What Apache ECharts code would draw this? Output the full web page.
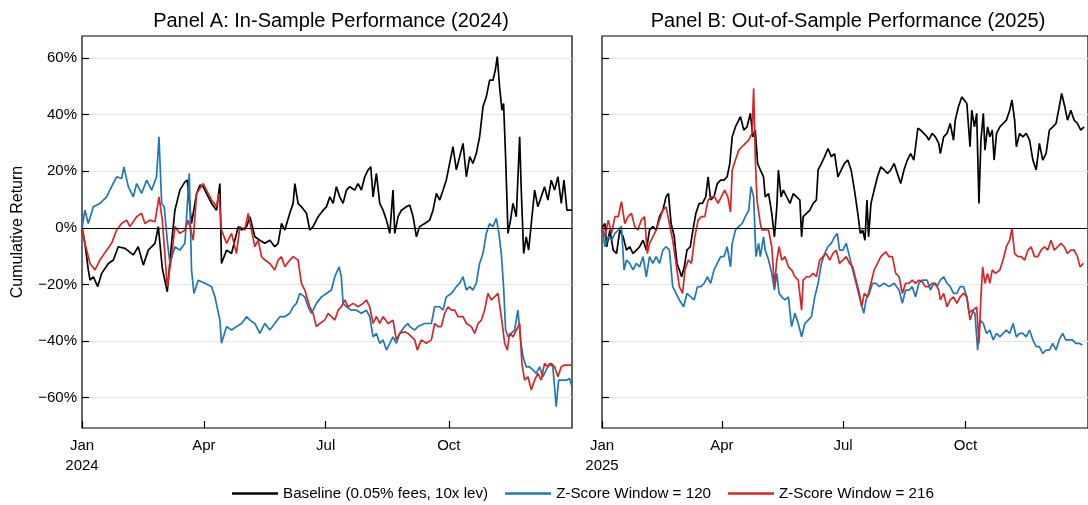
<!DOCTYPE html>
<html>
<head>
<meta charset="utf-8">
<title>Cumulative Return</title>
<script src="https://cdn.jsdelivr.net/npm/echarts@6.0.0/dist/echarts.min.js"></script>
<style>
  html, body { margin: 0; padding: 0; background: #fff; }
  #main { width: 1088px; height: 505px; }
</style>
</head>
<body>
<div id="main"></div>
<script>
// [day of year, cumulative return %]

// Panel A (2024)
const baselineA = [[0,0],[2.2,-5.5],[4.7,-14.9],[6.0,-18.5],[8.5,-17.3],[11.7,-20.8],[14.7,-16.1],[19.7,-12.6],[23.4,-11.4],[27.1,-6.7],[32.1,-7.3],[38.3,-9.6],[42.0,-6.7],[45.8,-13.2],[49.5,-7.9],[54.5,-5.5],[57.0,0.4],[60.0,-14.4],[63.7,-22.6],[66.9,-5.5],[69.4,6.2],[73.1,13.3],[76.9,16.2],[78.6,16.8],[81.8,1.5],[85.6,12.1],[88.1,15.1],[90.5,14.5],[93.0,12.1],[96.8,8.6],[100.5,6.2],[103.0,15.6],[104.2,-12.6],[108.0,-7.9],[111.7,-9.1],[116.7,0.4],[119.2,-0.8],
  [122.9,0.4],[125.4,3.9],[129.1,-3.2],[132.8,-4.4],[136.6,-5.5],[140.3,-4.4],[144.0,-6.7],[146.5,-5.5],[149.0,1.5],[151.5,-0.8],[155.2,5.1],[157.7,8.6],[159.0,15.6],[161.4,8.6],[163.9,7.4],[167.7,5.1],[170.1,-0.8],[172.6,0.4],[176.4,3.9],[180.1,6.2],[182.6,7.4],[185.1,10.9],[187.6,8.6],[190.0,14.5],[192.5,10.9],[195.0,8.6],[197.5,13.3],[200.0,14.5],[203.7,13.3],[206.2,15.6],[208.7,13.3],[211.2,18.0],[213.7,20.4],[215.7,21.5],[217.4,10.9],[219.9,19.2],[222.4,8.6],[224.9,6.2],[227.4,2.7],[229.9,-2.0],[232.3,13.3],[233.6,-2.0],[236.1,3.9],[238.6,6.2],[242.3,7.4],
  [244.8,8.0],[247.3,3.9],[249.8,-3.2],[252.2,0.4],[256.0,1.5],[259.7,2.7],[262.2,6.2],[264.7,12.1],[267.2,9.8],[269.7,13.3],[272.1,16.8],[274.6,22.7],[277.1,28.6],[279.6,20.4],[282.1,25.1],[284.6,29.8],[287.1,18.0],[289.6,25.1],[292.0,22.7],[294.5,26.2],[297.0,32.1],[299.5,42.7],[302.0,46.2],[304.5,52.1],[307.0,52.1],[308.7,55.6],[310.2,60.4],[311.9,49.8],[313.7,41.5],[314.9,43.9],[316.4,25.1],[318.2,-2.0],[320.1,2.7],[321.9,8.6],[324.4,3.9],[326.9,32.1],[328.1,13.3],[329.9,-9.1],[331.8,-3.2],[333.6,-7.9],[335.6,1.5],[338.1,13.3],[340.5,7.4],[343.0,10.9],[345.5,14.5],[348.0,9.8],[350.5,16.8],[353.0,13.3],[355.5,18.0],[358.0,8.6],[360.0,16.8],[362.2,6.2],[364.2,6.2],[366.0,6.2]];

const z120A = [[0,0],[2.2,6.2],[4.7,1.5],[8.5,7.4],[13.4,8.6],[18.4,10.9],[22.1,14.5],[25.9,18.0],[29.6,17.4],[31.3,21.5],[34.6,14.5],[38.3,10.9],[40.8,15.6],[44.5,12.1],[48.3,16.8],[52.0,13.3],[55.7,18.0],[57.5,32.1],[59.5,8.6],[61.4,7.4],[63.9,-5.5],[65.7,-12.6],[69.4,-6.7],[73.1,-7.9],[76.9,-5.5],[80.1,19.2],[81.8,-14.9],[83.6,-23.2],[86.8,-18.5],[91.8,-19.6],[96.8,-20.8],[99.3,-24.4],[103.0,-32.6],[104.2,-40.8],[108.0,-34.9],[111.7,-36.1],[115.4,-34.9],[119.2,-33.8],
  [122.9,-31.4],[125.4,-32.6],[129.1,-33.8],[132.8,-37.3],[136.6,-33.8],[140.3,-36.1],[144.0,-33.8],[147.8,-31.4],[151.5,-31.4],[155.2,-30.2],[157.7,-27.9],[160.2,-26.7],[162.7,-23.2],[166.4,-24.4],[168.9,-27.9],[171.4,-30.2],[175.1,-26.7],[178.9,-24.4],[182.6,-23.2],[186.3,-22.0],[188.8,-17.3],[192.0,-13.8],[193.7,-17.3],[195.0,-26.7],[197.5,-27.9],[201.2,-29.1],[205.0,-29.1],[208.7,-30.2],[212.4,-29.1],[214.9,-31.4],[217.4,-38.5],[219.9,-37.3],[222.4,-40.8],[224.9,-39.6],[227.4,-43.2],[229.9,-40.8],[232.3,-38.5],[234.8,-40.8],[237.3,-37.3],[241.0,-34.9],[243.5,-33.8],
  [244.8,-34.9],[248.5,-36.1],[251.0,-34.9],[256.0,-33.8],[261.0,-33.8],[263.4,-27.9],[267.2,-27.9],[269.7,-29.1],[272.1,-24.4],[275.9,-23.2],[279.6,-20.8],[282.1,-19.6],[284.6,-17.3],[287.1,-22.0],[289.6,-20.8],[292.0,-22.0],[294.5,-19.6],[297.0,-12.6],[299.5,-9.1],[302.0,-2.0],[304.5,1.5],[307.0,0.4],[309.5,3.3],[311.4,-2.0],[313.2,-9.1],[314.9,-20.8],[316.4,-36.1],[318.2,-38.5],[320.6,-37.3],[323.1,-36.1],[325.6,-29.1],[327.6,-39.6],[329.4,-45.5],[331.8,-49.1],[334.3,-49.1],[336.8,-50.2],[339.3,-51.4],[341.8,-49.1],[344.3,-52.6],[346.8,-50.2],[349.3,-47.9],[351.7,-49.1],[354.2,-63.2],[356.0,-53.8],[359.2,-53.8],[361.7,-53.8],[364.2,-53.2],[366.0,-56.1]];

const z216A = [[0,0],[2.2,-5.5],[6.0,-12.6],[9.7,-14.9],[13.4,-11.4],[18.4,-7.9],[22.1,-5.5],[25.9,-0.8],[29.6,1.5],[33.3,2.7],[35.8,0.4],[40.8,3.9],[44.5,5.1],[47.0,1.5],[50.7,2.7],[54.5,2.1],[57.5,10.9],[60.0,2.7],[62.4,-12.6],[63.7,-20.8],[66.9,-10.2],[69.4,0.4],[73.1,-2.0],[76.9,-0.8],[79.4,2.7],[83.1,-4.4],[85.6,12.1],[90.5,15.6],[93.0,13.3],[96.8,9.8],[100.5,7.4],[102.2,12.1],[104.2,-0.8],[108.0,-5.5],[111.7,-2.0],[115.4,-9.1],[117.9,0.4],[121.6,-0.8],
  [124.1,5.1],[126.6,-0.8],[129.1,-6.7],[131.6,-4.4],[134.1,-10.2],[136.6,-11.4],[140.3,-12.6],[144.0,-14.9],[146.5,-11.4],[149.0,-10.2],[151.5,-13.8],[155.2,-11.4],[157.7,-10.2],[161.4,-11.4],[163.9,-19.6],[166.4,-22.0],[170.1,-27.9],[172.6,-30.2],[175.1,-34.9],[177.6,-33.8],[181.3,-32.6],[183.8,-30.2],[186.3,-31.4],[188.8,-32.6],[191.3,-29.1],[193.7,-27.9],[196.3,-25.5],[198.7,-27.9],[202.5,-26.7],[206.2,-27.9],[210.0,-26.7],[212.4,-25.5],[214.9,-27.9],[217.4,-33.8],[219.9,-31.4],[222.4,-33.8],[224.9,-31.4],[228.6,-33.8],[232.3,-32.6],[234.8,-39.6],[237.3,-37.3],[241.0,-36.7],[243.5,-37.3],
  [244.8,-37.3],[248.5,-39.6],[250.5,-43.2],[253.5,-39.6],[257.2,-40.8],[261.0,-39.6],[263.4,-33.8],[266.0,-34.9],[268.4,-34.9],[270.9,-30.2],[273.4,-27.9],[275.9,-29.1],[278.4,-29.1],[280.8,-31.4],[284.6,-31.4],[287.1,-33.8],[290.8,-34.9],[293.3,-37.3],[295.8,-33.8],[298.3,-32.6],[300.7,-29.1],[303.2,-23.2],[305.7,-25.5],[308.2,-24.4],[310.7,-23.2],[313.2,-31.4],[315.7,-40.8],[317.7,-43.2],[319.4,-37.3],[321.9,-38.5],[324.4,-36.1],[326.9,-33.8],[328.6,-47.9],[330.6,-53.8],[333.1,-52.6],[335.6,-57.3],[338.1,-53.8],[340.5,-51.4],[343.0,-53.8],[345.5,-47.9],[348.0,-49.1],[350.5,-47.9],[353.0,-49.1],[355.5,-52.6],[358.0,-49.1],[360.5,-48.5],[363.0,-48.5],[366.0,-48.5]];

// Panel B (2025)
const baselineB = [[0,0],[2.2,1.5],[3.5,-6.7],[6.0,-0.8],[8.4,-7.9],[10.9,-9.1],[13.4,-0.8],[15.9,-3.2],[18.4,-7.9],[20.8,-6.7],[23.3,-9.1],[25.8,-7.9],[28.3,-6.7],[30.8,-4.4],[33.3,-7.9],[35.7,-0.8],[38.2,0.4],[40.7,-0.8],[43.2,3.9],[45.7,6.2],[48.1,10.9],[49.9,12.1],[51.9,1.5],[54.3,-3.2],[56.3,-12.6],[58.1,-14.9],[59.8,-17.3],[61.8,-13.8],[63.8,-7.9],[66.3,-6.7],[68.7,0.4],[70.5,5.1],[73.0,8.6],[75.4,8.6],[77.9,10.9],[79.7,18.0],[81.6,9.8],[84.1,10.9],[86.6,15.6],[89.1,16.8],[91.6,16.8],[94.0,18.0],[96.0,22.7],[97.8,32.1],[100.2,35.6],[102.7,38.0],[104.0,39.2],[106.5,34.5],[108.9,35.6],[111.4,40.4],[113.4,32.1],[115.1,34.5],[116.9,22.7],[118.9,20.4],[121.3,18.0],
  [122.6,10.9],[125.1,12.1],[127.5,5.1],[129.5,-3.2],[131.3,7.4],[132.5,20.4],[134.5,10.9],[136.2,13.3],[138.7,10.9],[141.2,8.6],[143.7,12.1],[146.2,10.9],[148.6,9.8],[149.9,-3.2],[151.1,3.9],[153.6,5.1],[156.1,6.2],[158.6,8.6],[161.0,9.8],[162.3,20.4],[164.8,22.7],[167.2,25.1],[169.7,28.0],[172.2,25.1],[174.7,26.2],[177.2,18.0],[179.7,20.4],[182.1,22.7],[184.6,23.9],[187.1,20.4],[189.6,13.3],[192.1,5.1],[194.0,-2.0],[195.8,-0.8],[197.5,-4.4],[199.0,9.8],[200.2,-3.2],[202.0,8.6],[204.4,13.3],[206.9,18.0],[209.4,21.5],[211.9,20.4],[214.4,19.2],[216.9,20.4],[219.4,22.7],[221.8,19.2],[224.3,15.6],[226.8,20.4],[229.3,23.9],[231.8,26.2],[234.2,23.9],[235.5,28.6],[237.2,35.1],[239.2,34.5],[241.7,33.3],[244.2,32.1],
  [245.4,30.9],[247.9,33.3],[250.4,32.1],[252.9,29.8],[254.1,26.2],[256.6,32.1],[259.1,33.3],[261.5,36.8],[264.0,30.9],[265.3,38.0],[267.7,42.7],[270.2,46.2],[271.5,46.8],[274.0,43.9],[276.4,28.6],[277.7,41.5],[279.7,35.6],[281.4,40.4],[283.1,8.6],[284.6,30.9],[286.4,40.4],[287.6,27.4],[289.6,35.6],[291.3,32.1],[293.1,34.5],[294.5,23.9],[296.3,33.3],[298.8,35.6],[301.2,36.8],[303.7,38.0],[306.2,41.5],[307.9,45.1],[309.9,38.0],[311.2,28.6],[313.6,33.3],[316.1,32.1],[318.6,33.3],[321.1,30.9],[323.6,23.9],[326.1,20.4],[328.5,29.8],[331.0,23.9],[333.5,26.2],[336.0,34.5],[338.5,35.6],[341.0,36.8],[343.4,42.7],[345.2,47.4],[347.6,42.7],[349.6,38.0],[352.1,41.5],[354.6,38.0],[357.1,36.8],[359.6,34.5],[362.0,35.6]];

const z120B = [[0,0],[2.2,-6.7],[4.7,-3.2],[7.2,-4.4],[9.7,-2.0],[12.2,-0.8],[14.6,0.4],[16.6,-14.9],[18.4,-11.4],[20.8,-12.6],[23.3,-14.9],[25.8,-12.6],[28.3,-13.8],[30.8,-10.2],[33.3,-17.3],[35.7,-10.2],[38.2,-12.6],[40.7,-10.2],[43.2,-12.6],[45.7,-7.9],[48.1,-6.7],[50.6,-7.9],[53.1,-20.8],[55.6,-23.2],[58.1,-25.5],[61.3,-27.9],[63.8,-23.2],[66.7,-24.4],[69.2,-25.5],[71.7,-20.8],[74.2,-20.8],[76.7,-19.6],[79.2,-17.3],[81.6,-19.6],[84.1,-14.9],[86.6,-12.6],[89.1,-10.2],[91.6,-10.2],[94.0,-6.7],[96.5,-13.8],[97.8,-5.5],[100.2,-0.8],[102.7,0.4],[105.2,1.5],[107.7,3.9],[110.2,6.2],[111.9,14.5],[113.9,10.9],[115.6,-10.2],[117.6,-5.5],[118.9,-10.2],[121.3,-3.2],
  [122.6,-7.9],[125.1,-11.4],[127.5,-16.1],[129.5,-22.0],[131.3,-16.1],[133.0,-23.2],[135.0,-24.4],[137.5,-25.5],[140.0,-24.4],[142.4,-34.9],[144.9,-30.2],[147.4,-33.8],[149.9,-38.5],[152.4,-33.8],[154.8,-32.6],[157.3,-31.4],[159.8,-24.4],[162.3,-19.6],[164.8,-12.6],[167.2,-9.1],[169.7,-6.7],[172.2,-5.5],[174.7,-3.2],[176.7,-2.0],[178.4,-7.9],[180.9,-7.9],[183.4,-5.5],[185.9,-10.2],[188.3,-14.9],[190.8,-19.6],[193.3,-24.4],[196.6,-30.2],[198.3,-25.5],[200.7,-23.2],[203.2,-19.6],[205.7,-19.6],[208.2,-20.8],[211.9,-19.6],[215.6,-20.8],[219.4,-19.6],[223.1,-22.0],[225.6,-26.7],[228.0,-22.0],[230.5,-22.0],[233.0,-20.8],[235.5,-24.4],[238.0,-19.6],[240.4,-18.5],[244.2,-18.5],
  [246.7,-22.0],[249.1,-19.6],[251.6,-20.8],[254.1,-18.5],[256.6,-17.3],[259.1,-19.6],[261.5,-20.8],[264.0,-23.2],[266.5,-23.2],[269.0,-20.8],[271.5,-20.8],[274.0,-24.4],[275.7,-30.2],[277.7,-29.1],[280.1,-30.2],[282.1,-43.2],[283.9,-32.6],[286.4,-33.8],[288.8,-37.3],[291.3,-36.1],[293.8,-39.6],[296.3,-37.3],[298.8,-38.5],[301.2,-37.3],[303.7,-36.1],[306.2,-37.3],[308.7,-33.8],[311.2,-38.5],[313.6,-37.3],[316.1,-37.3],[318.6,-38.5],[321.1,-36.1],[323.6,-39.6],[326.1,-42.0],[328.5,-42.0],[331.0,-44.4],[333.5,-43.2],[336.0,-43.2],[338.5,-40.8],[341.0,-43.2],[343.4,-39.6],[345.9,-37.3],[348.4,-39.6],[350.9,-39.6],[353.3,-39.6],[355.8,-40.8],[358.3,-40.8],[360.8,-41.4]];

const z216B = [[0,0],[2.2,-3.2],[4.7,2.7],[7.2,-2.0],[9.7,3.9],[12.2,3.9],[14.6,9.2],[17.1,1.5],[19.6,3.9],[22.1,5.1],[24.6,0.4],[27.0,-0.8],[29.5,2.7],[32.0,3.9],[34.0,-9.1],[35.7,-5.5],[38.2,-3.2],[40.7,-0.8],[43.2,2.7],[45.7,6.2],[48.1,7.4],[50.6,1.5],[53.1,-4.4],[55.6,-12.6],[58.1,-20.8],[60.5,-23.2],[62.3,-14.9],[64.8,-11.4],[67.2,-12.6],[69.7,-3.2],[72.2,2.7],[74.7,3.9],[77.2,3.9],[79.7,9.8],[82.1,10.9],[84.6,10.9],[87.1,8.6],[89.6,10.9],[92.1,13.3],[94.5,10.9],[96.5,5.6],[97.8,20.4],[100.2,23.9],[102.7,27.4],[105.2,28.6],[107.7,29.8],[110.2,30.9],[112.7,33.3],[113.9,49.2],[115.1,25.1],[116.4,9.8],[118.9,1.5],[120.1,-0.8],
  [122.6,-0.8],[125.1,-0.8],[127.5,-6.7],[129.5,-20.8],[131.3,-11.4],[133.0,-6.7],[135.0,-11.4],[137.5,-10.2],[140.0,-13.8],[142.4,-14.9],[144.9,-17.3],[147.4,-18.5],[149.9,-29.1],[151.1,-18.5],[153.6,-17.3],[156.1,-17.3],[158.6,-16.1],[161.0,-17.3],[163.5,-11.4],[166.0,-10.2],[168.5,-9.1],[171.0,-11.4],[173.4,-9.1],[175.9,-7.9],[178.4,-12.6],[180.9,-11.4],[183.4,-10.2],[185.9,-12.6],[188.3,-13.8],[190.8,-18.5],[193.3,-23.2],[195.0,-27.9],[197.0,-23.2],[199.5,-24.4],[202.0,-19.6],[204.4,-14.9],[206.9,-12.6],[209.4,-10.2],[213.1,-8.5],[215.6,-10.2],[218.1,-10.2],[220.6,-16.1],[223.1,-17.3],[225.6,-23.2],[228.0,-19.6],[230.5,-19.6],[233.0,-18.5],[235.5,-19.6],[238.0,-18.5],[240.4,-19.1],[242.9,-20.8],
  [245.4,-20.8],[247.9,-19.6],[250.4,-19.6],[252.9,-22.0],[254.1,-25.5],[256.6,-23.2],[259.1,-27.9],[261.5,-25.5],[264.0,-24.4],[266.5,-26.7],[269.0,-24.4],[271.5,-23.2],[274.0,-24.4],[276.4,-32.6],[278.9,-29.1],[281.4,-27.9],[283.1,-40.8],[284.6,-24.4],[285.9,-13.8],[287.6,-19.6],[289.6,-16.1],[291.3,-19.6],[293.1,-14.9],[295.5,-16.1],[298.8,-14.9],[301.2,-11.4],[303.7,-6.7],[306.2,-4.4],[307.9,-0.2],[309.9,-9.1],[312.4,-10.2],[314.9,-10.2],[317.4,-11.4],[319.9,-7.9],[322.3,-6.7],[324.8,-10.2],[327.3,-10.2],[329.8,-7.9],[332.3,-6.7],[334.7,-7.9],[337.2,-4.4],[339.7,-7.9],[342.2,-6.7],[344.7,-5.5],[347.1,-6.7],[349.6,-9.1],[352.1,-7.9],[354.6,-7.9],[357.1,-10.2],[359.0,-13.8],[361.6,-12.6]];

// axes
const yTicks = [-60, -40, -20, 0, 20, 40, 60];
const xTicksA = [0, 91, 182, 274];
const xLabelsA = ['Jan\n2024', 'Apr', 'Jul', 'Oct'];
const xTicksB = [0, 90, 181, 273];
const xLabelsB = ['Jan\n2025', 'Apr', 'Jul', 'Oct'];

const names = ['Baseline (0.05% fees, 10x lev)', 'Z-Score Window = 120', 'Z-Score Window = 216'];
const colors = ['#000000', '#1f77b4', '#d62728'];
const font = 'Liberation Sans, Arial, sans-serif';

let chart = echarts.init(document.getElementById('main'));

function makeX(idx, ticks, labels, max) {
  return {
    type: 'value', gridIndex: idx, min: 0, max: max,
    axisLine: { show: false, onZero: false },
    axisTick: { show: true, inside: true, length: 7, customValues: ticks, lineStyle: { color: '#000', width: 1.2 } },
    axisLabel: {
      customValues: ticks, color: '#000', fontSize: 15, fontFamily: font, lineHeight: 20, margin: 8,
      formatter: v => labels[ticks.indexOf(v)]
    },
    splitLine: { show: false }
  }
}

function makeY(idx) {
  return {
    type: 'value', gridIndex: idx, min: -70.7, max: 67.7,
    name: idx === 0 ? 'Cumulative Return' : '',
    nameLocation: 'middle', nameGap: 56,
    nameTextStyle: { fontSize: 16, color: '#000', fontFamily: font },
    axisLine: { show: false },
    axisTick: { show: true, inside: true, length: 7, customValues: yTicks, lineStyle: { color: '#000', width: 1.2 } },
    axisLabel: {
      show: idx === 0, customValues: yTicks, color: '#000', fontSize: 15, fontFamily: font, margin: 5,
      formatter: v => (v < 0 ? '\u2212' + (-v) : v) + '%'
    },
    splitLine: { show: true, lineStyle: { color: '#e6e6e6', width: 1 } }
  }
}

function makeLine(k, data, idx) {
  let s = {
    name: names[k], type: 'line', xAxisIndex: idx, yAxisIndex: idx,
    data: data, symbol: 'none', showSymbol: false,
    lineStyle: { color: colors[k], width: 1.7 }, itemStyle: { color: colors[k] },
    z: 2 + k
  }
  if (k === 0) {
    // zero line
    s.markLine = {
      silent: true, symbol: 'none', label: { show: false },
      lineStyle: { color: '#000', width: 1, type: 'solid' },
      data: [{ yAxis: 0 }]
    }
  }
  return s
}

let option = {
  animation: false,
  backgroundColor: '#fff',
  textStyle: { fontFamily: font },
  title: [
    { text: 'Panel A: In-Sample Performance (2024)', left: 326, top: 6, textAlign: 'center',
      textStyle: { fontSize: 20, fontWeight: 'normal', color: '#000', fontFamily: font } },
    { text: 'Panel B: Out-of-Sample Performance (2025)', left: 843, top: 6, textAlign: 'center',
      textStyle: { fontSize: 20, fontWeight: 'normal', color: '#000', fontFamily: font } }
  ],
  legend: {
    data: names, left: 227, top: 481, icon: 'rect',
    itemWidth: 46, itemHeight: 2.5, itemGap: 17,
    textStyle: { fontSize: 15.2, color: '#000', fontFamily: font }
  },
  grid: [
    { left: 82, top: 36, width: 490, height: 392, show: true, borderColor: '#000', borderWidth: 1.2, backgroundColor: 'transparent' },
    { left: 602, top: 36, width: 490, height: 392, show: true, borderColor: '#000', borderWidth: 1.2, backgroundColor: 'transparent' }
  ],
  xAxis: [makeX(0, xTicksA, xLabelsA, 366), makeX(1, xTicksB, xLabelsB, 365)],
  yAxis: [makeY(0), makeY(1)],
  series: [
    makeLine(0, baselineA, 0), makeLine(1, z120A, 0), makeLine(2, z216A, 0),
    makeLine(0, baselineB, 1), makeLine(1, z120B, 1), makeLine(2, z216B, 1)
  ]
}

chart.setOption(option)
</script>
</body>
</html>
